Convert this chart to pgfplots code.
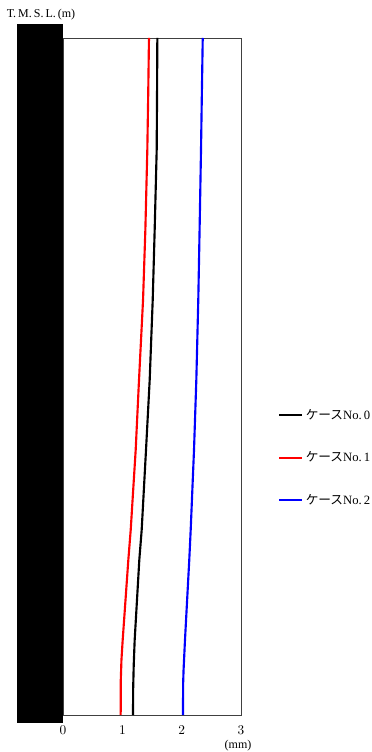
\documentclass[border=0pt]{standalone}
\usepackage{pgfplots}
\pgfplotsset{compat=1.18}
\usepackage{fontspec}
\setmainfont{Liberation Serif}
\newfontfamily\jp{Noto Sans CJK JP}
\begin{document}
\begin{tikzpicture}[x=0.75pt,y=0.75pt]
\path[use as bounding box] (-63,-37) rectangle (308,715);
\begin{axis}[
  at={(0,0)}, anchor=south west,
  scale only axis, width=133.5pt, height=507.75pt,
  xmin=0, xmax=3, ymin=0, ymax=677,
  xtick={0,1,2,3}, ytick=\empty,
  major tick length=0pt,
  tick label style={font=\fontsize{10}{12}\selectfont},
  xticklabel style={yshift=-5pt},
  axis line style={black!75, line width=0.6pt},
  clip=false,
  legend style={draw=none, at={(1.208,0.38)}, anchor=west, font=\fontsize{9.5}{11}\selectfont, row sep=19pt, inner sep=0pt},
  legend cell align=left,
  legend image code/.code={\draw[#1] (0pt,0pt) -- (17pt,0pt);},
]
\fill[black] (axis cs:-0.775,-8) rectangle (axis cs:0,691);
\addplot[black, line width=1.6pt] coordinates {(1.590,677)(1.585,620)(1.579,565)(1.545,485)(1.512,415)(1.461,335)(1.399,265)(1.326,185)(1.286,155)(1.208,75)(1.192,50)(1.182,25)(1.180,0)};
\addlegendentry{{\jp ケース}No.\,0}
\addplot[red, line width=1.6pt] coordinates {(1.449,677)(1.436,620)(1.421,565)(1.388,485)(1.349,415)(1.281,335)(1.225,265)(1.141,185)(1.101,155)(1.006,75)(0.985,55)(0.974,35)(0.972,0)};
\addlegendentry{{\jp ケース}No.\,1}
\addplot[blue, line width=1.6pt] coordinates {(2.355,677)(2.340,620)(2.326,565)(2.302,485)(2.280,415)(2.247,335)(2.208,265)(2.152,185)(2.128,155)(2.056,75)(2.032,45)(2.024,30)(2.023,0)};
\addlegendentry{{\jp ケース}No.\,2}
\end{axis}
\node[font=\fontsize{9}{11}\selectfont, inner sep=0pt] at (-22,700) {T.\,M.\,S.\,L.\,(m)};
\node[font=\fontsize{9}{11}\selectfont, inner sep=0pt] at (175,-31) {(mm)};
\end{tikzpicture}
\end{document}
